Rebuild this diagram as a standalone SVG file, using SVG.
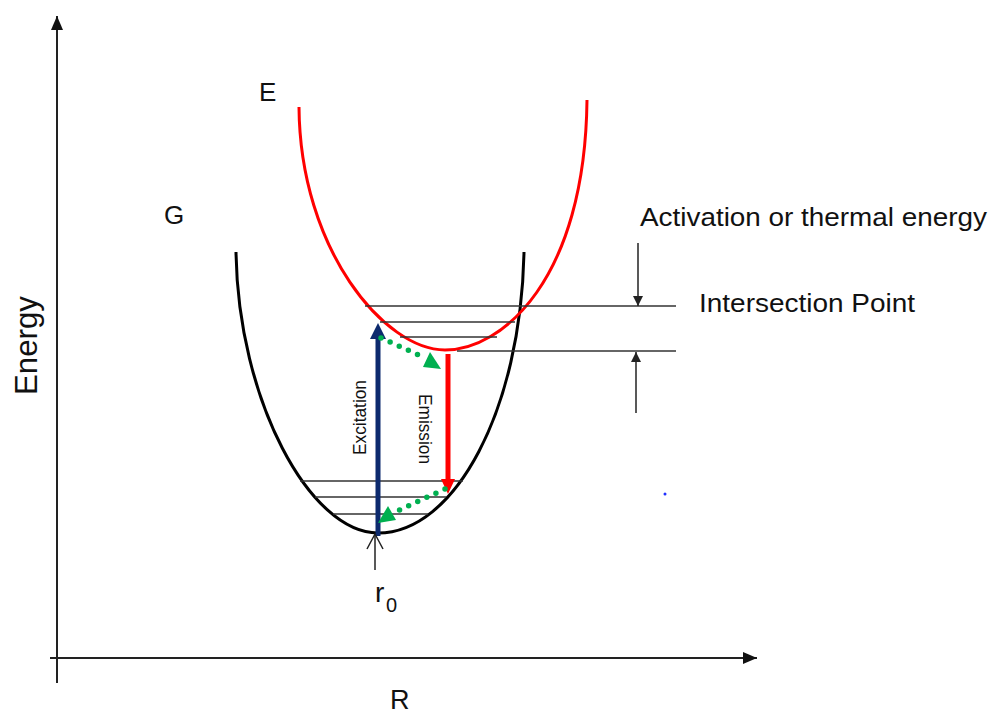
<svg xmlns="http://www.w3.org/2000/svg" width="992" height="717" viewBox="0 0 992 717">
<style>
text{font-family:"Liberation Sans",Arial,sans-serif;fill:#111}
.axis{stroke:#222;stroke-width:2;fill:none}
.lvl{stroke:#333;stroke-width:1.6;fill:none}
.thin{stroke:#222;stroke-width:1.5;fill:none}
.green{stroke:#00b050;stroke-width:5.5;stroke-dasharray:0 10;stroke-linecap:round;fill:none}
</style>
<defs>
<marker id="ah" viewBox="0 0 10 10" refX="10" refY="5" markerWidth="10" markerHeight="10" markerUnits="userSpaceOnUse" orient="auto"><path d="M0,0L10,5L0,10z" fill="#222"/></marker>
<marker id="ahBig" viewBox="0 0 14 12" refX="14" refY="6" markerWidth="14" markerHeight="12" markerUnits="userSpaceOnUse" orient="auto"><path d="M0,0L14,6L0,12z" fill="#111"/></marker>
</defs>
<rect width="992" height="717" fill="#fff"/>

<g id="axes">
<line class="axis" x1="57" y1="683" x2="57" y2="16" marker-end="url(#ahBig)"/>
<line class="axis" x1="50" y1="658" x2="757" y2="658" marker-end="url(#ahBig)"/>
<text transform="translate(37,395) rotate(-90)" font-size="31" textLength="99" lengthAdjust="spacingAndGlyphs">Energy</text>
<text x="390" y="709" font-size="27">R</text>
</g>

<g id="ground-state">
<path d="M236,252 C238,400 310,533 378,533 C455,533 521,410 524,252" stroke="#000" stroke-width="3" fill="none"/>
<text x="164" y="224" font-size="26">G</text>
<line class="lvl" x1="300" y1="481" x2="463" y2="481"/>
<line class="lvl" x1="315" y1="497" x2="446" y2="497"/>
<line class="lvl" x1="333" y1="514" x2="428" y2="514"/>
</g>

<g id="excited-state">
<path d="M299,107 C300,250 385,350 445,350 C502,350 585,280 587,100" stroke="#ff0000" stroke-width="3" fill="none"/>
<text x="259" y="101" font-size="26">E</text>
<line class="lvl" x1="365" y1="306" x2="676" y2="306"/>
<line class="lvl" x1="380" y1="322" x2="515" y2="322"/>
<line class="lvl" x1="400" y1="337" x2="497" y2="337"/>
<line class="lvl" x1="457" y1="351" x2="676" y2="351"/>
</g>

<g id="labels">
<text x="640" y="226" font-size="26" textLength="347" lengthAdjust="spacingAndGlyphs">Activation or thermal energy</text>
<text x="699" y="312" font-size="26" textLength="216" lengthAdjust="spacingAndGlyphs">Intersection Point</text>
<text transform="translate(366,455) rotate(-90)" font-size="18" textLength="75" lengthAdjust="spacingAndGlyphs">Excitation</text>
<text transform="translate(419,394) rotate(90)" font-size="18" textLength="70" lengthAdjust="spacingAndGlyphs">Emission</text>
<text x="375" y="602" font-size="28">r</text>
<text x="386" y="612" font-size="20">0</text>
<circle cx="665" cy="494" r="1.5" fill="#2030ff"/>
</g>

<g id="connectors">
<line x1="378" y1="536" x2="378" y2="336" stroke="#0d2a6e" stroke-width="5"/>
<path d="M370,339 L378,323 L386,339 z" fill="#0d2a6e"/>
<line x1="448" y1="354" x2="448" y2="481" stroke="#ff0000" stroke-width="5"/>
<path d="M441,479 L448,494 L455,479 z" fill="#ff0000"/>
<line class="green" x1="381" y1="338" x2="421" y2="356"/>
<path d="M441,369 L423,367 L430,352 z" fill="#00b050"/>
<line class="green" x1="445" y1="489" x2="395" y2="512"/>
<path d="M378,523 L388,506 L396,520 z" fill="#00b050"/>
<line class="thin" x1="638" y1="243" x2="638" y2="306" marker-end="url(#ah)"/>
<line class="thin" x1="636" y1="413" x2="636" y2="352" marker-end="url(#ah)"/>
<line class="thin" x1="375" y1="570" x2="375" y2="534"/>
<polyline class="thin" points="367,549 375,534 383,549"/>
</g>
</svg>
